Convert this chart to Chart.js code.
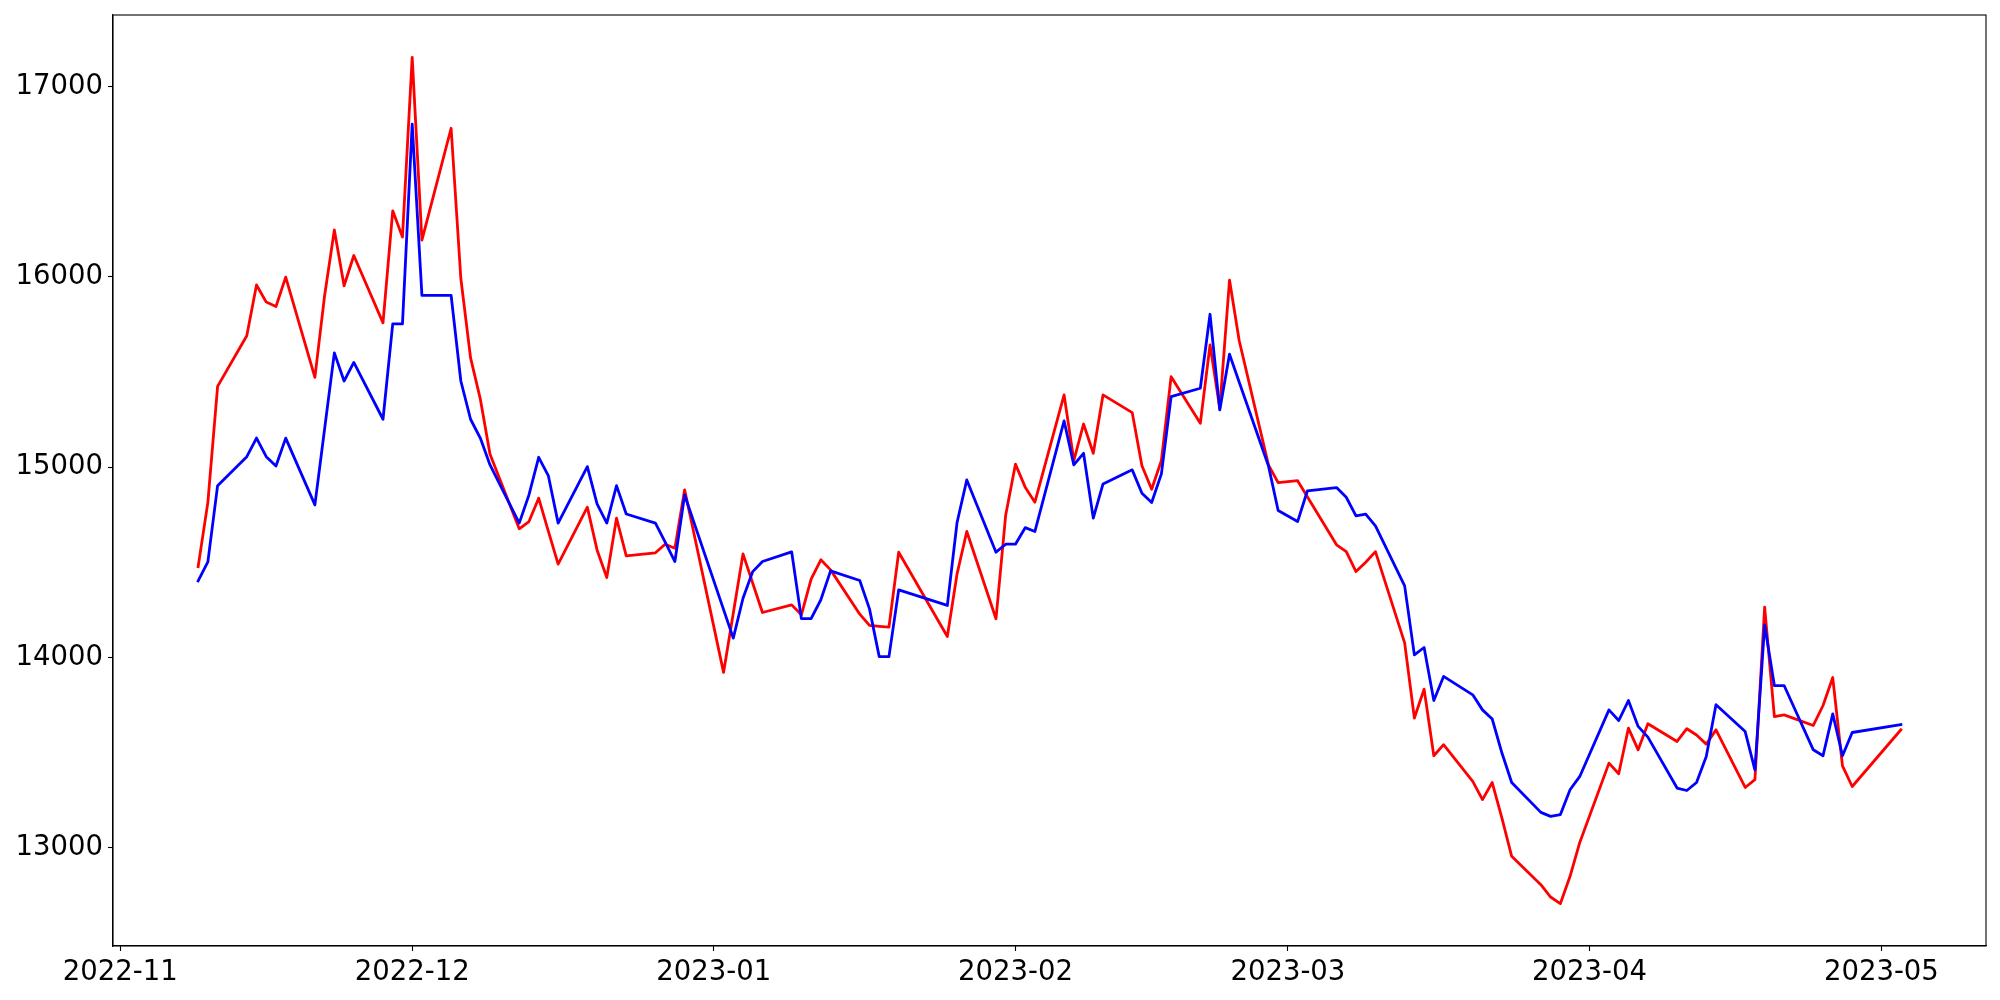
<!DOCTYPE html>
<html><head><meta charset="utf-8">
<script src="https://cdn.jsdelivr.net/npm/chart.js@4.4.1/dist/chart.umd.min.js"></script>
<style>html,body{margin:0;padding:0;background:#fff}#wrap{width:2000px;height:1000px}</style>
</head><body><div id="wrap"><canvas id="c" width="2000" height="1000"></canvas></div>
<script>
const dates = [
'2022-11-09','2022-11-10','2022-11-11','2022-11-14','2022-11-15','2022-11-16','2022-11-17','2022-11-18',
'2022-11-21','2022-11-22','2022-11-23','2022-11-24','2022-11-25','2022-11-28','2022-11-29','2022-11-30',
'2022-12-01','2022-12-02','2022-12-05','2022-12-06','2022-12-07','2022-12-08','2022-12-09',
'2022-12-12','2022-12-13','2022-12-14','2022-12-15','2022-12-16','2022-12-19','2022-12-20','2022-12-21',
'2022-12-22','2022-12-23','2022-12-26','2022-12-27','2022-12-28','2022-12-29',
'2023-01-02','2023-01-03','2023-01-04','2023-01-05','2023-01-06','2023-01-09','2023-01-10','2023-01-11',
'2023-01-12','2023-01-13','2023-01-16','2023-01-17','2023-01-18','2023-01-19','2023-01-20',
'2023-01-25','2023-01-26','2023-01-27','2023-01-30','2023-01-31',
'2023-02-01','2023-02-02','2023-02-03','2023-02-06','2023-02-07','2023-02-08','2023-02-09','2023-02-10',
'2023-02-13','2023-02-14','2023-02-15','2023-02-16','2023-02-17','2023-02-20','2023-02-21','2023-02-22',
'2023-02-23','2023-02-24','2023-02-27','2023-02-28',
'2023-03-02','2023-03-03','2023-03-06','2023-03-07','2023-03-08','2023-03-09','2023-03-10',
'2023-03-13','2023-03-14','2023-03-15','2023-03-16','2023-03-17','2023-03-20','2023-03-21','2023-03-22',
'2023-03-23','2023-03-24','2023-03-27','2023-03-28','2023-03-29','2023-03-30','2023-03-31',
'2023-04-03','2023-04-04','2023-04-05','2023-04-06','2023-04-07','2023-04-10','2023-04-11','2023-04-12',
'2023-04-13','2023-04-14','2023-04-17','2023-04-18','2023-04-19','2023-04-20','2023-04-21',
'2023-04-24','2023-04-25','2023-04-26','2023-04-27','2023-04-28','2023-05-03'
];
const redValues = [
14477,14815,15425,15691,15958,15868,15845,15999,
15472,15903,16247,15954,16113,15759,16348,16210,
17155,16194,16782,15992,15575,15359,15068,
14676,14714,14837,14663,14490,14790,14565,14420,
14732,14534,14550,14595,14574,14881,
13921,null,14544,14390,14236,14276,14224,14411,
14513,14460,14227,14168,14163,14159,14553,
14110,14439,14662,14203,14749,
15016,14895,14816,15380,15035,15227,15073,15380,
15287,15008,14884,15035,15476,15231,15643,15310,
15984,15665,15012,14919,
14929,14845,14592,14556,14451,14500,14556,
14076,13681,13833,13483,13541,13348,13252,13342,
13155,12954,12805,12740,12705,12849,13027,
13444,13388,13628,13514,13651,13558,13625,13592,
13544,13619,13316,13357,14264,13689,13698,
13642,13747,13894,13430,13321,13619
];
const blueValues = [
14402,14502,14903,15055,15153,15055,15006,15153,
14802,15202,15601,15453,15551,15252,15753,15753,
16804,15903,15903,15453,15252,15153,15012,
14706,14854,15052,14954,14706,15003,14807,14706,
14903,14754,14706,14606,14504,14854,
null,14101,14311,14451,14504,14555,14204,14204,
14303,14455,14404,14255,14004,14004,14355,
14273,14709,14933,14553,14595,
14595,14682,14662,15243,15012,15073,14732,14912,
14986,14863,14814,14965,15371,15415,15804,15301,
15594,15447,15008,14772,
14714,14875,14893,14842,14744,14753,14691,
14376,14013,14052,13773,13900,13803,13724,13676,
13497,13342,13185,13164,13173,13304,13374,
13724,13668,13773,13637,13581,13313,13300,13342,
13479,13751,13610,13409,14171,13852,13852,
13514,13483,13703,13483,13605,13646
];
const monthTickDates = ['2022-11-01','2022-12-01','2023-01-01','2023-02-01','2023-03-01','2023-04-01','2023-05-01'];
const monthTickLabels = ['2022-11','2022-12','2023-01','2023-02','2023-03','2023-04','2023-05'];
const yTickValues = [13000,14000,15000,16000,17000];

const DAY = 86400000;
const ORIGIN = Date.UTC(2022,10,1);
function dayNum(s){ const p = s.split('-').map(Number); return (Date.UTC(p[0],p[1]-1,p[2]) - ORIGIN)/DAY; }
const xs = dates.map(dayNum);
const xMinD = Math.min(...xs), xMaxD = Math.max(...xs), xr = xMaxD - xMinD;
const allY = redValues.concat(blueValues).filter(v => v !== null);
const yMinD = Math.min(...allY), yMaxD = Math.max(...allY), yr = yMaxD - yMinD;

const FONT = {family: 'DejaVu Sans', size: 27.5};

const frame = {
  id: 'frame',
  afterDatasetsDraw(chart){
    const a = chart.chartArea, ctx = chart.ctx;
    ctx.save();
    ctx.strokeStyle = '#000';
    ctx.lineWidth = 1.1;
    ctx.strokeRect(a.left, a.top, a.right - a.left, a.bottom - a.top);
    ctx.restore();
  }
};

new Chart(document.getElementById('c'), {
  type: 'line',
  data: {
    datasets: [
      {data: xs.map((x,i) => ({x: x, y: redValues[i]})), borderColor: '#ff0000', borderWidth: 2.8,
       pointRadius: 0, tension: 0, spanGaps: true, order: 1, borderJoinStyle: 'round', borderCapStyle: 'square', fill: false},
      {data: xs.map((x,i) => ({x: x, y: blueValues[i]})), borderColor: '#0000ff', borderWidth: 2.8,
       pointRadius: 0, tension: 0, spanGaps: true, order: 0, borderJoinStyle: 'round', borderCapStyle: 'square', fill: false}
    ]
  },
  options: {
    responsive: false, animation: false, devicePixelRatio: 1,
    layout: {padding: {left: 0, top: 15, right: 14, bottom: 0}},
    plugins: {legend: {display: false}, tooltip: {enabled: false}},
    scales: {
      x: {
        type: 'linear',
        min: xMinD - 0.05*xr, max: xMaxD + 0.05*xr,
        afterBuildTicks: s => { s.ticks = monthTickDates.map(d => ({value: dayNum(d)})); },
        afterFit: s => { s.height = 54; s.paddingLeft = 0; s.paddingRight = 0; },
        grid: {display: true, drawOnChartArea: false, drawTicks: true, tickLength: 5, tickWidth: 1.1, tickColor: '#000'},
        border: {display: true, color: '#000', width: 1.1},
        ticks: {autoSkip: false, maxRotation: 0, minRotation: 0, padding: 5, color: '#000', font: FONT,
          callback: (v, i) => monthTickLabels[i]}
      },
      y: {
        type: 'linear',
        min: yMinD - 0.05*yr, max: yMaxD + 0.05*yr,
        afterBuildTicks: s => { s.ticks = yTickValues.map(v => ({value: v})); },
        afterFit: s => { s.width = 113; s.paddingTop = 0; s.paddingBottom = 0; },
        grid: {display: true, drawOnChartArea: false, drawTicks: true, tickLength: 5, tickWidth: 1.1, tickColor: '#000'},
        border: {display: true, color: '#000', width: 1.1},
        ticks: {padding: 5, color: '#000', font: FONT, callback: v => String(v)}
      }
    }
  },
  plugins: [frame]
});
</script>
</body></html>
